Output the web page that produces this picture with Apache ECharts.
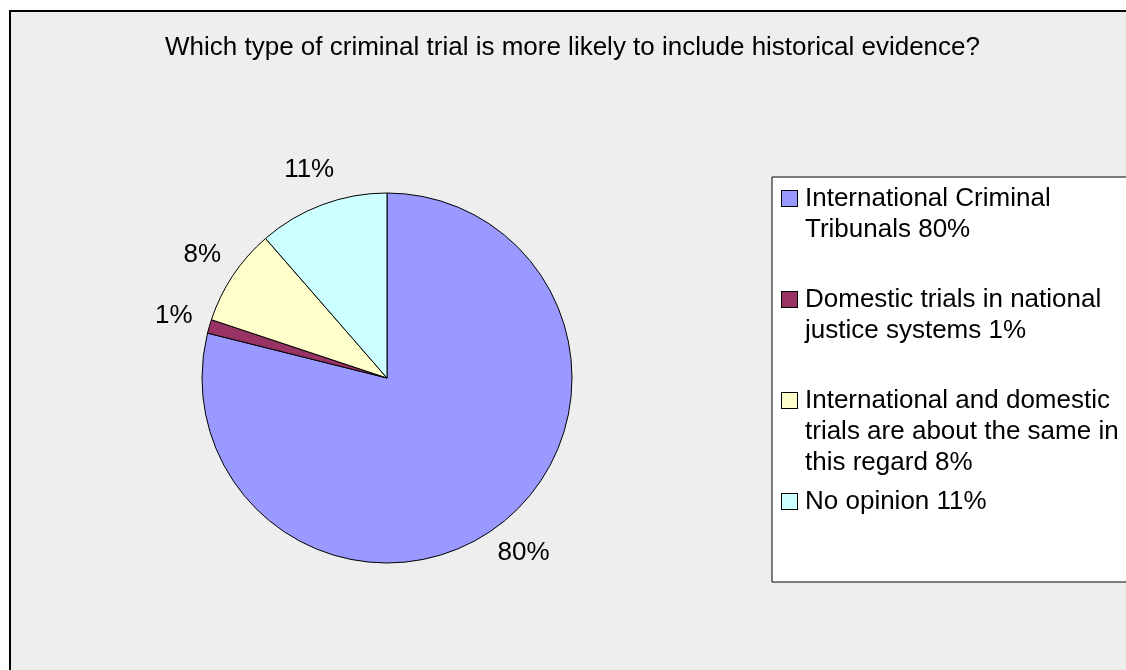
<!DOCTYPE html>
<html>
<head>
<meta charset="utf-8">
<title>Historical evidence in criminal trials</title>
<script src="https://cdn.jsdelivr.net/npm/echarts@6/dist/echarts.min.js"></script>
<style>
  html, body { margin: 0; padding: 0; background: #fff; }
  #main { width: 1126px; height: 670px; }
</style>
</head>
<body>
<div id="main"></div>
<script>
const titleText = "Which type of criminal trial is more likely to include historical evidence?";
// category names, with the line breaks used in the legend
const categories = [
  "International Criminal\nTribunals",
  "Domestic trials in national\njustice systems",
  "International and domestic\ntrials are about the same in\nthis regard",
  "No opinion"
];
// slice sizes as drawn
const sliceValues = [78.9, 1.2, 8.5, 11.4];
// percentages as printed on the chart
const percentLabels = ["80%", "1%", "8%", "11%"];
const colors = ["#9999FF", "#993366", "#FFFFCC", "#CCFFFF"];

const FONT = "'Liberation Sans', Arial, sans-serif";
const LINE = 31;

const chart = echarts.init(document.getElementById("main"));

// legend swatch drawn inside the rich text so it sits on the first line
const rich = { g: { width: 8, lineHeight: LINE }, ind: { width: 23, lineHeight: LINE } };
colors.forEach(function (c, i) {
  rich["b" + i] = {
    width: 15, height: 15, lineHeight: LINE,
    backgroundColor: c, borderColor: "#000", borderWidth: 1
  };
});

function legendText(name) {
  const i = categories.indexOf(name);
  const lines = (name + " " + percentLabels[i]).split("\n");
  const out = lines.map(function (l, k) {
    return (k === 0 ? "{b" + i + "|}{g|}" : "{ind|}") + l;
  });
  while (out.length < 3) out.push(" ");
  return out.join("\n");
}

const option = {
  backgroundColor: "#fff",
  animation: false,
  graphic: [
    {
      type: "rect",
      z: -10,
      silent: true,
      shape: { x: 10, y: 11, width: 1300, height: 900 },
      style: { fill: "#EEEEEE", stroke: "#000", lineWidth: 2 }
    }
  ],
  title: {
    text: titleText,
    left: 165,
    top: 33,
    padding: 0,
    textStyle: {
      fontFamily: FONT, fontSize: 26, fontWeight: "normal",
      color: "#000", lineHeight: 30
    }
  },
  legend: {
    orient: "vertical",
    left: 772,
    top: 177,
    padding: [6, 40, 3, 5],
    backgroundColor: "#fff",
    borderColor: "#000",
    borderWidth: 1,
    borderRadius: 0,
    itemWidth: 0,
    itemHeight: 0,
    itemGap: 8,
    icon: "rect",
    itemStyle: { color: "transparent", borderWidth: 0 },
    selectedMode: false,
    data: categories,
    formatter: legendText,
    textStyle: {
      fontFamily: FONT, fontSize: 26, color: "#000",
      lineHeight: LINE, rich: rich
    }
  },
  series: [
    {
      type: "pie",
      center: [387, 378],
      radius: 185,
      startAngle: 90,
      clockwise: true,
      avoidLabelOverlap: false,
      silent: true,
      emphasis: { disabled: true },
      itemStyle: { borderColor: "#000", borderWidth: 1 },
      label: {
        show: true,
        position: "outside",
        distanceToLabelLine: 0,
        fontFamily: FONT,
        fontSize: 26,
        color: "#000",
        formatter: function (p) { return percentLabels[p.dataIndex]; }
      },
      labelLine: { show: false, length: 37, length2: 0 },
      labelLayout: { align: "center", verticalAlign: "middle" },
      data: categories.map(function (name, i) {
        return { name: name, value: sliceValues[i], itemStyle: { color: colors[i] } };
      })
    }
  ]
};

chart.setOption(option);
</script>
</body>
</html>
